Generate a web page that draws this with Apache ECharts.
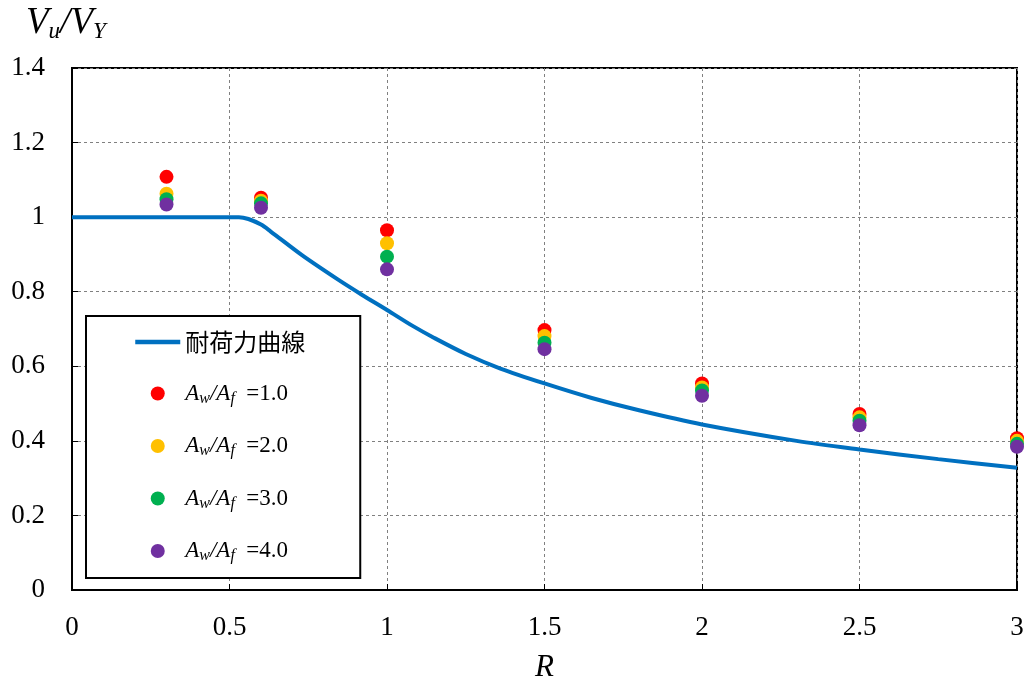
<!DOCTYPE html>
<html>
<head>
<meta charset="utf-8">
<script src="https://cdn.jsdelivr.net/npm/echarts@6/dist/echarts.min.js"></script>
<style>
html,body{margin:0;padding:0;background:#fff;}
#chart{width:1029px;height:686px;}
</style>
</head>
<body>
<div id="chart"></div>
<script>
// ---- data ----
const xTickLabels = ['0', '0.5', '1', '1.5', '2', '2.5', '3'];
const yTickLabels = ['0', '0.2', '0.4', '0.6', '0.8', '1', '1.2', '1.4'];

const curveName = '耐荷力曲線';
const curveR = [0, 0.53, 0.56, 0.6, 0.63, 0.73, 0.84, 0.92, 1.0, 1.08, 1.15, 1.25, 1.36, 1.5, 1.65, 1.8, 2.0, 2.3, 2.5, 2.75, 3.0];
const curveV = [1.0, 1.0, 0.995, 0.98, 0.962, 0.898, 0.835, 0.792, 0.751, 0.709, 0.676, 0.633, 0.594, 0.554, 0.515, 0.482, 0.444, 0.400, 0.377, 0.351, 0.328];

const pointR = [0.3, 0.6, 1.0, 1.5, 2.0, 2.5, 3.0];
const seriesNames = ['Aw/Af =1.0', 'Aw/Af =2.0', 'Aw/Af =3.0', 'Aw/Af =4.0'];
const seriesRatio = ['1.0', '2.0', '3.0', '4.0'];
const aw1 = [1.108, 1.052, 0.965, 0.697, 0.554, 0.472, 0.407];
const aw2 = [1.063, 1.044, 0.930, 0.681, 0.543, 0.463, 0.400];
const aw3 = [1.048, 1.037, 0.894, 0.663, 0.535, 0.454, 0.392];
const aw4 = [1.034, 1.025, 0.860, 0.646, 0.521, 0.442, 0.384];
const seriesValues = [aw1, aw2, aw3, aw4];
const seriesColors = ['#FF0000', '#FFC000', '#00B050', '#7030A0'];

// ---- chart ----
const serif = "'Liberation Serif', 'Times New Roman', serif";
const chart = echarts.init(document.getElementById('chart'), null, {renderer: 'canvas'});

const zip = (xs, ys) => xs.map((x, i) => [x, ys[i]]);

const series = [{
  name: curveName,
  type: 'line',
  data: zip(curveR, curveV),
  symbol: 'none',
  showSymbol: false,
  smooth: 0.3,
  lineStyle: {color: '#0070C0', width: 4},
  itemStyle: {color: '#0070C0'},
  z: 2
}];
seriesValues.forEach((vals, i) => {
  series.push({
    name: seriesNames[i],
    type: 'scatter',
    data: zip(pointR, vals),
    symbol: 'circle',
    symbolSize: 14,
    itemStyle: {color: seriesColors[i], opacity: 1},
    clip: false,
    z: 3 + i
  });
});

const fmtVal = (labels) => (v) => {
  const s = labels.find(l => Math.abs(parseFloat(l) - v) < 1e-6);
  return s === undefined ? '' : s;
};

const option = {
  animation: false,
  backgroundColor: '#fff',
  grid: {
    left: 72, right: 12, top: 68, bottom: 96,
    outerBoundsMode: 'none',
    containLabel: false,
    show: true, borderColor: '#000', borderWidth: 2, backgroundColor: 'transparent'
  },
  xAxis: {
    type: 'value', min: 0, max: 3, interval: 0.5,
    name: 'R', nameLocation: 'middle', nameGap: 62,
    nameTextStyle: {fontFamily: serif, fontStyle: 'italic', fontSize: 31, color: '#000'},
    axisLine: {show: true, lineStyle: {color: '#000', width: 2}},
    axisTick: {show: true, inside: true, length: 6, lineStyle: {color: '#000', width: 1}},
    axisLabel: {fontFamily: serif, fontSize: 27, color: '#000', margin: 24, formatter: fmtVal(xTickLabels)},
    splitLine: {show: true, lineStyle: {color: '#808080', width: 1, type: [3, 3]}}
  },
  yAxis: {
    type: 'value', min: 0, max: 1.4, interval: 0.2,
    axisLine: {show: true, lineStyle: {color: '#000', width: 2}},
    axisTick: {show: true, inside: true, length: 6, lineStyle: {color: '#000', width: 1}},
    axisLabel: {fontFamily: serif, fontSize: 27, color: '#000', margin: 27, formatter: fmtVal(yTickLabels)},
    splitLine: {show: true, lineStyle: {color: '#808080', width: 1, type: [3, 3]}}
  },
  legend: {
    orient: 'vertical',
    left: 86, top: 316,
    padding: [14, 55, 14, 47],
    itemGap: 28,
    itemWidth: 45,
    itemHeight: 14,
    backgroundColor: '#fff',
    borderColor: '#000',
    borderWidth: 2,
    data: [
      {name: curveName, itemStyle: {opacity: 0}, lineStyle: {width: 4.5, color: '#0070C0'}},
      ...seriesNames.map(n => ({name: n, icon: 'circle', itemStyle: {opacity: 1}}))
    ],
    formatter: (name) => {
      if (name === curveName) return '{cjk|' + name + '}';
      const idx = seriesNames.indexOf(name);
      return '{i|A}{s|w}{i|/A}{s|f}{r|  =' + seriesRatio[idx] + '}';
    },
    textStyle: {
      color: '#000',
      rich: {
        cjk: {fontFamily: "'Noto Sans CJK JP', sans-serif", fontSize: 24, lineHeight: 26, color: '#000'},
        i: {fontFamily: serif, fontStyle: 'italic', fontSize: 23, lineHeight: 26, color: '#000'},
        s: {fontFamily: serif, fontStyle: 'italic', fontSize: 16, lineHeight: 18, verticalAlign: 'bottom', color: '#000'},
        r: {fontFamily: serif, fontSize: 23, lineHeight: 26, color: '#000'}
      }
    }
  },
  graphic: [{
    type: 'text',
    left: 26, top: 5,
    style: {
      text: '{v|V}{s|u}{v|/V}{s|Y}',
      rich: {
        v: {fontFamily: serif, fontStyle: 'italic', fontSize: 37, lineHeight: 40, fill: '#000'},
        s: {fontFamily: serif, fontStyle: 'italic', fontSize: 23, lineHeight: 16, verticalAlign: 'bottom', fill: '#000'}
      }
    }
  }],
  series: series
};
chart.setOption(option);
</script>
</body>
</html>
